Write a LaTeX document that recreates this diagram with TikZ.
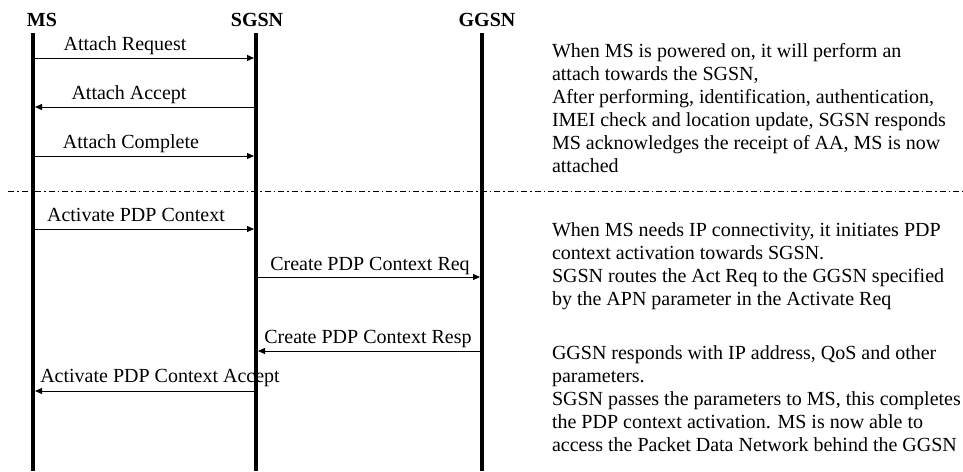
\documentclass[tikz,border=0pt]{standalone}
\usepackage{fontspec}
\setmainfont{Liberation Serif}
\usetikzlibrary{arrows.meta}
\begin{document}
\begin{tikzpicture}[x=1pt,y=-1pt,
  every node/.style={inner sep=0pt, outer sep=0pt, font=\fontsize{20}{23}\selectfont},
  head/.style={anchor=base, font=\fontsize{20}{23}\selectfont\bfseries},
  life/.style={line width=3.5pt},
  msg/.style={line width=1pt, -{Triangle[length=7pt,width=6pt]}},
  lbl/.style={anchor=base},
  note/.style={anchor=base west}]
\useasboundingbox (0,0) rectangle (963,471);
% headers
\node[head] (hms) at (42,26) {MS};
\node[head] (hsgsn) at (257,26) {SGSN};
\node[head] (hggsn) at (487,26) {GGSN};
% lifelines
\coordinate (ms0) at (33,33);   \coordinate (ms1) at (33,471);
\coordinate (sg0) at (256,33);  \coordinate (sg1) at (256,471);
\coordinate (gg0) at (482,33);  \coordinate (gg1) at (482,471);
\draw[life] (ms0) -- (ms1);
\draw[life] (sg0) -- (sg1);
\draw[life] (gg0) -- (gg1);
% separator
\coordinate (sepL) at (8,191);
\coordinate (sepR) at (963,191);
\draw[line width=0.8pt, dash pattern=on 6pt off 3pt on 1.5pt off 3pt] (sepL) -- (sepR);
% message endpoints
\coordinate (a1s) at (35,58);  \coordinate (a1e) at (254,58);
\coordinate (a2s) at (254,107); \coordinate (a2e) at (35,107);
\coordinate (a3s) at (35,156); \coordinate (a3e) at (254,156);
\coordinate (b1s) at (35,229); \coordinate (b1e) at (254,229);
\coordinate (b2s) at (258,277); \coordinate (b2e) at (480,277);
\coordinate (b3s) at (480,351); \coordinate (b3e) at (258,351);
\coordinate (b4s) at (254,391); \coordinate (b4e) at (35,391);
\draw[msg] (a1s) -- (a1e);
\draw[msg] (a2s) -- (a2e);
\draw[msg] (a3s) -- (a3e);
\draw[msg] (b1s) -- (b1e);
\draw[msg] (b2s) -- (b2e);
\draw[msg] (b3s) -- (b3e);
\draw[msg] (b4s) -- (b4e);
% labels
\node[lbl] (l1) at (125,50) {Attach Request};
\node[lbl] (l2) at (129,99) {Attach Accept};
\node[lbl] (l3) at (131,148) {Attach Complete};
\node[lbl] (l4) at (136,221) {Activate PDP Context};
\node[lbl] (l5) at (370,270) {Create PDP Context Req};
\node[lbl] (l6) at (368,343) {Create PDP Context Resp};
\node[lbl] (l7) at (160,382) {Activate PDP Context Accept};
% notes, block 1
\node[note] (n1a) at (552,57)  {When MS is powered on, it will perform an};
\node[note] (n1b) at (552,80)  {attach towards the SGSN,};
\node[note] (n1c) at (552,103) {After performing, identification, authentication,};
\node[note] (n1d) at (552,126) {IMEI check and location update, SGSN responds};
\node[note] (n1e) at (552,149) {MS acknowledges the receipt of AA, MS is now};
\node[note] (n1f) at (552,172) {attached};
% block 2
\node[note] (n2a) at (552,236) {When MS needs IP connectivity, it initiates PDP};
\node[note] (n2b) at (552,259) {context activation towards SGSN.};
\node[note] (n2c) at (552,282) {SGSN routes the Act Req to the GGSN specified};
\node[note] (n2d) at (552,305) {by the APN parameter in the Activate Req};
% block 3
\node[note] (n3a) at (552,359) {GGSN responds with IP address, QoS and other};
\node[note] (n3b) at (552,382) {parameters.};
\node[note] (n3c) at (552,405) {SGSN passes the parameters to MS, this completes};
\node[note] (n3d) at (552,428) {the PDP context activation. MS is now able to};
\node[note] (n3e) at (552,451) {access the Packet Data Network behind the GGSN};
\end{tikzpicture}
\end{document}
